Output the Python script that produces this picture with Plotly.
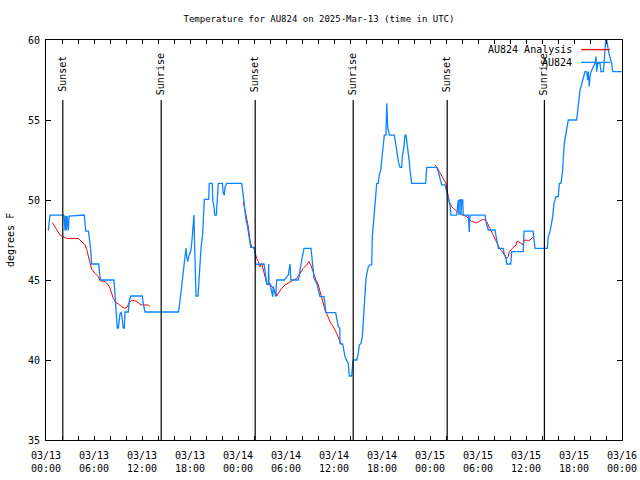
import pandas as pd
import plotly.graph_objects as go

START = pd.Timestamp("2025-03-13 00:00")

# Observed temperature (hours since 2025-03-13 00:00 UTC, degrees F)
obs_hours = [0.29, 0.5, 2.25, 2.375, 2.46, 2.54, 2.62, 2.79, 2.88, 4.79, 4.96, 5.29, 5.37, 5.5, 5.58, 5.71,
             6.59, 6.75, 6.83, 8.5, 8.625, 8.75, 8.83, 8.91, 9.04, 9.25, 9.375, 9.5, 9.66, 9.79, 9.875,
             10.29, 10.41, 10.59, 12.04, 12.16, 12.375, 16.54, 16.66, 16.75, 16.875, 17.0, 17.09, 17.21,
             17.34, 17.46, 17.5, 17.59, 17.71, 17.84, 18.0, 18.125, 18.25, 18.41, 18.5, 18.54, 18.66,
             18.75, 19.0, 19.09, 19.25, 19.375, 19.59, 19.66, 19.79, 20.34, 20.41, 20.79, 20.84, 21.0,
             21.09, 21.29, 21.34, 21.54, 22.04, 22.16, 22.29, 22.375, 22.59, 24.46, 24.66, 24.75, 24.875,
             25.0, 25.16, 25.29, 25.41, 25.5, 25.59, 26.04, 26.125, 26.21, 27.25, 27.375, 27.5, 27.59,
             27.79, 27.83, 27.875, 28.0, 28.09, 28.21, 28.34, 28.41, 28.54, 28.71, 28.84, 29.79, 30.29,
             30.5, 30.6, 31.54, 31.66, 31.84, 31.96, 32.09, 32.25, 33.125, 33.34, 33.5, 33.625, 33.91,
             34.04, 34.25, 34.75, 34.875, 35.0, 36.21, 36.34, 36.54, 36.72, 36.75, 37.09, 37.25, 37.375,
             37.59, 37.79, 37.91, 38.21, 38.34, 38.41, 38.84, 39.04, 39.16, 39.375, 39.54, 39.66, 39.79,
             39.875, 40.0, 40.16, 40.29, 40.5, 40.71, 40.79, 40.91, 41.125, 41.25, 41.34, 41.54, 41.66,
             41.84, 41.96, 42.16, 42.29, 42.5, 42.59, 42.71, 42.91, 43.54, 43.66, 43.84, 44.04, 44.25,
             44.46, 44.54, 44.75, 44.875, 45.0, 45.09, 45.29, 45.41, 45.5, 45.625, 45.71, 47.46, 47.59,
             48.84, 49.04, 49.25, 49.46, 49.875, 50.09, 50.29, 50.5, 50.625, 51.34, 51.54, 51.625, 51.66,
             51.84, 51.875, 51.96, 52.09, 52.16, 52.79, 52.91, 53.0, 54.875, 55.0, 55.29, 56.125, 56.34,
             56.54, 57.16, 57.25, 57.5, 57.59, 58.09, 58.21, 59.66, 59.75, 60.875, 61.125, 62.66, 62.79,
             63.0, 63.125, 63.34, 63.5, 63.625, 63.75, 64.04, 64.16, 64.375, 64.59, 64.66, 64.79, 65.0,
             65.16, 65.29, 66.34, 66.46, 66.625, 66.75, 66.875, 67.09, 67.25, 67.375, 67.59, 67.71,
             67.79, 67.91, 68.0, 68.125, 68.41, 68.625, 68.75, 68.84, 68.96, 69.25, 69.375, 69.66,
             69.75, 69.96, 70.09, 70.16, 70.29, 70.41, 70.59, 70.71, 70.84, 72.0]
obs_temp = [48.1, 49.06, 49.06, 48.1, 49.0, 48.1, 49.0, 48.1, 49.0, 49.06, 48.06, 48.06, 47.8, 47.29, 46.9, 46.0,
            46.0, 45.2, 45.0, 45.0, 43.96, 43.5, 42.5, 42.0, 42.0, 42.9, 43.0, 42.7, 42.0, 42.0, 43.0,
            43.0, 43.7, 44.0, 44.0, 43.5, 43.0, 43.0, 43.33, 43.85, 44.27, 44.79, 45.21, 45.73,
            46.25, 46.56, 46.98, 46.46, 46.15, 46.46, 46.67, 46.875, 47.5, 48.44, 49.06, 47.92, 45.83,
            44.0, 44.0, 44.79, 45.83, 46.98, 47.92, 49.27, 50.04, 50.04, 51.04, 51.04, 50.0, 49.58,
            49.06, 49.06, 49.58, 51.04, 51.04, 50.42, 50.3, 50.83, 51.04, 51.04, 50.3, 49.79, 49.17,
            48.75, 48.44, 48.02, 47.6, 47.29, 47.04, 47.04, 46.77, 45.98, 46.0, 45.6, 45.0, 44.75,
            44.75, 46.0, 44.75, 44.75, 44.58, 44.375, 43.96, 44.6, 44.375, 43.96, 45.0, 45.0, 45.31,
            46.0, 45.0, 45.0, 45.3, 46.0, 46.25, 46.56, 46.98, 46.98, 45.94, 45.1, 45.0, 44.69,
            44.375, 43.96, 43.96, 43.44, 42.96, 42.96, 42.5, 42.08, 42.0, 41.04, 41.0, 40.52, 40.21,
            39.96, 39.79, 39.0, 39.0, 39.79, 40.0, 40.0, 40.42, 40.94, 41.04, 41.46, 42.5, 43.54,
            44.48, 45.1, 45.52, 45.83, 45.94, 45.94, 47.71, 48.54, 49.58, 50.42, 51.04, 51.04, 51.56,
            51.875, 52.5, 53.54, 54.06, 54.06, 56.04, 54.6, 54.06, 54.06, 53.75, 53.1, 52.4, 52.04,
            52.04, 52.7, 53.33, 54.06, 54.06, 53.75, 53.1, 52.4, 51.875, 51.25, 51.04, 51.04, 52.04,
            52.04, 51.77, 51.35, 50.94, 50.94, 50.42, 50.1, 49.69, 49.06, 49.06, 50.0, 49.06, 50.0,
            50.0, 49.06, 50.0, 50.0, 49.06, 49.06, 48.0, 49.06, 49.06, 48.65, 48.125, 48.125, 47.5,
            46.98, 46.98, 46.67, 46.35, 46.0, 46.0, 46.77, 46.77, 48.06, 48.06, 46.98, 46.98, 47.71,
            48.02, 48.33, 48.96, 49.79, 50.0, 50.21, 50.21, 51.04, 51.04, 51.875, 52.71, 53.54, 54.17,
            54.58, 55.0, 55.0, 55.625, 56.25, 56.875, 57.08, 57.5, 57.71, 58.02, 58.02, 57.5,
            58.02, 57.08, 57.71, 58.02, 58.33, 58.54, 58.96, 58.02, 58.54, 58.54, 58.02, 58.02,
            58.54, 60.0, 60.0, 59.69, 59.375, 59.06, 58.75, 58.54, 58.02, 58.02]

# Analysis temperature (three segments, separated by gaps)
ana_hours = [0.79, 1.125, 1.54, 1.75, 2.16, 2.59, 4.04, 4.46, 4.875, 5.09, 5.29, 5.5, 5.71, 6.125, 6.54, 6.75,
             7.375, 7.79, 8.0, 8.21, 8.41, 8.75, 9.04, 9.46, 9.875, 10.125, 10.41, 10.71, 11.125, 11.54,
             11.875, 12.79, 13.0, None,
             24.66, 24.875, 25.09, 25.29, 25.5, 25.71, 26.0, 26.125, 26.34, 26.54, 26.75, 26.96, 27.16,
             27.375, 27.59, 27.79, 28.0, 28.21, 28.41, 28.625, 28.84, 29.04, 29.46, 29.875, 30.5, 30.91,
             31.34, 31.75, 32.16, 32.59, 32.875, 33.09, 33.41, 33.75, 34.04, 34.25, 34.46, 34.66, 34.875,
             35.16, 35.5, 35.91, 36.34, 36.66, 36.96, None,
             48.625, 48.84, 49.04, 49.16, 49.34, 49.46, 49.66, 49.875, 50.0, 50.09, 50.16, 50.29, 50.41,
             50.59, 50.71, 50.91, 51.125, 51.34, 51.54, 51.75, 51.96, 52.16, 52.375, 52.59, 52.79, 53.0,
             53.21, 53.41, 53.625, 53.84, 54.04, 54.25, 54.46, 54.66, 54.875, 55.09, 55.29, 55.5, 55.71,
             55.91, 56.125, 56.34, 56.54, 56.75, 56.96, 57.16, 57.375, 57.59, 57.79, 57.91, 58.09, 58.34,
             58.5, 58.75, 58.84, 59.04, 59.25, 59.46, 59.59, 59.75, 60.0, 60.29, 60.5, 60.71, 60.84]
ana_temp = [48.6, 48.33, 48.02, 47.81, 47.7, 47.6, 47.6, 47.4, 47.2, 46.9, 46.46, 46.04, 45.67, 45.42, 45.21, 44.96,
            44.9, 44.69, 44.5, 44.17, 43.85, 43.58, 43.5, 43.33, 43.23, 43.3, 43.58, 43.75, 43.7, 43.58,
            43.44, 43.44, 43.33, None,
            49.9, 49.375, 48.96, 48.33, 47.5, 47.04, 46.98, 46.67, 46.35, 46.15, 45.83, 46.04, 45.6,
            45.21, 44.79, 44.69, 44.79, 44.58, 44.48, 44.27, 44.0, 44.17, 44.48, 44.69, 44.9, 45.0,
            45.1, 45.42, 45.73, 45.94, 46.15, 45.94, 45.42, 45.0, 44.69, 44.27, 43.96, 43.54, 43.125,
            42.81, 42.4, 42.08, 41.67, 41.25, 40.94, None,
            52.19, 52.08, 51.92, 51.77, 51.625, 51.46, 51.29, 51.15, 51.04, 50.73, 50.42, 50.21, 49.9,
            49.69, 49.58, 49.48, 49.375, 49.33, 49.21, 49.27, 49.06, 49.06, 49.0, 48.96, 48.85, 48.75,
            48.65, 48.65, 48.58, 48.58, 48.65, 48.71, 48.75, 48.79, 48.75, 48.65, 48.44, 48.23, 48.02,
            47.81, 47.6, 47.29, 47.08, 46.92, 46.83, 46.67, 46.5, 46.35, 46.46, 46.77, 46.875, 46.98,
            47.08, 47.19, 47.4, 47.4, 47.33, 47.29, 47.19, 47.46, 47.5, 47.46, 47.5, 47.6, 47.67]

# Sun events (hours since start)
sun_hours = [2.1, 14.4, 26.15, 38.4, 50.15, 62.3]
sun_labels = ["Sunset", "Sunrise", "Sunset", "Sunrise", "Sunset", "Sunrise"]

series_names = ["AU824 Analysis", "AU824"]
series_colors = ["#ff0000", "#0a84ff"]

FONT = "DejaVu Sans Mono"


def to_time(hours):
    return [None if h is None else START + pd.Timedelta(hours=h) for h in hours]


fig = go.Figure()
fig.add_trace(go.Scatter(x=to_time(ana_hours), y=ana_temp, mode="lines", name=series_names[0],
                         line=dict(color=series_colors[0], width=1), connectgaps=False))
fig.add_trace(go.Scatter(x=to_time(obs_hours), y=obs_temp, mode="lines", name=series_names[1],
                         line=dict(color=series_colors[1], width=1.3)))

shapes = []
annotations = []
for h, lab in zip(sun_hours, sun_labels):
    t = START + pd.Timedelta(hours=h)
    shapes.append(dict(type="line", xref="x", yref="paper", x0=t, x1=t, y0=0, y1=0.85,
                       line=dict(color="black", width=1.2)))
    annotations.append(dict(x=t, y=0.915, xref="x", yref="paper", text=lab, textangle=-90,
                            showarrow=False, font=dict(family=FONT, size=10, color="black"),
                            xanchor="center", yanchor="middle"))

# gnuplot-style legend (text left, line sample right)
leg_y = [0.976, 0.944]
for name, col, yy in zip(series_names, series_colors, leg_y):
    annotations.append(dict(x=0.9167, y=yy, xref="paper", yref="paper", text=name, showarrow=False,
                            xanchor="right", yanchor="middle",
                            font=dict(family=FONT, size=10, color="black")))
    shapes.append(dict(type="line", xref="paper", yref="paper", x0=0.9288, x1=0.979, y0=yy, y1=yy,
                       line=dict(color=col, width=1.3)))

annotations.append(dict(x=-0.0625, y=0.5, xref="paper", yref="paper", text="degrees F", textangle=-90,
                        showarrow=False, xanchor="center", yanchor="middle",
                        font=dict(family=FONT, size=10, color="black")))

fig.update_layout(
    width=640, height=480,
    margin=dict(l=46, r=18, t=40, b=40, autoexpand=False),
    paper_bgcolor="white", plot_bgcolor="white",
    showlegend=False,
    font=dict(family=FONT, size=10, color="black"),
    title=dict(text="Temperature for AU824 on 2025-Mar-13 (time in UTC)", x=319 / 640, xref="container",
               xanchor="center", y=1 - 19 / 480, yref="container", yanchor="middle",
               font=dict(family=FONT, size=9, color="black")),
    shapes=shapes, annotations=annotations,
)
fig.update_xaxes(
    type="date",
    range=[START, START + pd.Timedelta(hours=72)],
    tick0=START, dtick=6 * 3600 * 1000, tickformat="%m/%d<br>%H:%M",
    ticks="inside", ticklen=4, tickcolor="black", showline=True, linecolor="black", linewidth=1,
    mirror="allticks", showgrid=False, zeroline=False, automargin=False, ticklabelstandoff=6,
    minor=dict(ticks="inside", dtick=2 * 3600 * 1000, ticklen=4, tickcolor="black", showgrid=False),
    tickfont=dict(family=FONT, size=10, color="black"),
)
fig.update_yaxes(
    range=[35, 60], dtick=5, tick0=35,
    ticks="inside", ticklen=5, tickcolor="black", showline=True, linecolor="black", linewidth=1,
    mirror="allticks", showgrid=False, zeroline=False, automargin=False, ticklabelstandoff=3,
    tickfont=dict(family=FONT, size=10, color="black"),
)

# remove the browser's default 8px page margin so the figure fills the window exactly
fig.write_html("out.html", config={"displayModeBar": False},
               post_script="document.body.style.margin='0';")
